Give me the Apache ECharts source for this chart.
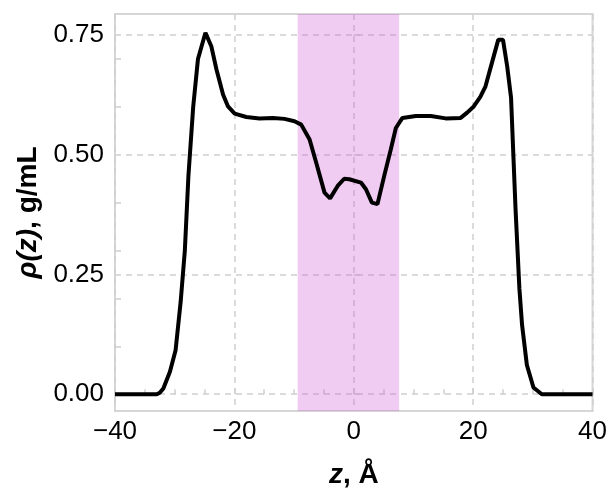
<!DOCTYPE html>
<html>
<head>
<meta charset="utf-8">
<script src="https://cdn.jsdelivr.net/npm/echarts@6/dist/echarts.min.js"></script>
<style>
  html, body { margin: 0; padding: 0; background: #fff; }
  #main { width: 610px; height: 494px; }
</style>
</head>
<body>
<div id="main"></div>
<script>
// density profile
var zValues = [-40, -33.0, -32.5, -31.9, -30.8, -29.85, -29.0, -28.3, -27.7, -26.9, -26.1, -24.85, -23.85, -23.0, -21.9, -21.07, -19.95, -18.0, -15.8, -13.55, -11.6, -9.93, -8.8, -7.4, -6.3, -4.9, -3.97, -2.7, -1.6, -0.75, 1.2, 2.04, 3.04, 3.97, 5.1, 6.2, 7.05, 8.15, 10.4, 12.9, 15.4, 17.9, 19.0, 20.1, 21.2, 22.07, 22.9, 24.2, 25.0, 25.7, 26.35, 27.1, 27.75, 28.2, 29.0, 30.1, 31.5, 40];
var rhoValues = [0, 0, 0.003, 0.012, 0.047, 0.092, 0.193, 0.30, 0.456, 0.60, 0.70, 0.755, 0.726, 0.678, 0.626, 0.601, 0.586, 0.579, 0.576, 0.577, 0.575, 0.570, 0.563, 0.532, 0.484, 0.421, 0.409, 0.435, 0.450, 0.449, 0.442, 0.428, 0.40, 0.397, 0.456, 0.511, 0.556, 0.577, 0.581, 0.581, 0.576, 0.577, 0.588, 0.601, 0.621, 0.643, 0.681, 0.740, 0.740, 0.685, 0.619, 0.387, 0.220, 0.144, 0.061, 0.014, 0, 0];
// shaded slab
var bandRange = [-9.4, 7.6];
// ticks
var yMajorTicks = [0, 0.25, 0.5, 0.75];
var yMinorTicks = [0.1, 0.2, 0.3, 0.4, 0.6, 0.7];

var font = 'Liberation Sans, Arial, Helvetica, sans-serif';
var gridGray = '#cfcfcf';

var lineData = zValues.map(function (z, i) { return [z, rhoValues[i]]; });

var myChart = echarts.init(document.getElementById('main'), null, { renderer: 'canvas' });
var option = {
    animation: false,
    grid: {
        left: 115, right: 16, top: 14, bottom: 81,
        show: true, borderColor: '#d6d6d6', borderWidth: 2, backgroundColor: 'transparent'
    },
    xAxis: {
        type: 'value', min: -40, max: 40, interval: 20,
        name: '{i|z}{b|, Å}', nameLocation: 'middle', nameGap: 50,
        nameTextStyle: {
            rich: {
                i: { fontFamily: font, fontSize: 28, fontWeight: 'bold', fontStyle: 'italic', color: '#000' },
                b: { fontFamily: font, fontSize: 28, fontWeight: 'bold', color: '#000' }
            }
        },
        axisLine: { show: false },
        axisTick: { show: true, inside: true, length: 6, lineStyle: { color: gridGray, width: 1.5 } },
        minorTick: { show: true, splitNumber: 4, length: 5, lineStyle: { color: gridGray, width: 1.5 } },
        axisLabel: {
            fontFamily: font, fontSize: 26, color: '#000', margin: 8,
            formatter: function (v) { return String(v).replace('-', '\u2212'); }
        },
        splitLine: { show: true, lineStyle: { color: gridGray, width: 1.5, type: [6, 5] } }
    },
    yAxis: [
        {
            type: 'value', min: -0.035, max: 0.794,
            name: '{i|ρ(z)}{b|, g/mL}', nameLocation: 'middle', nameGap: 70,
            nameTextStyle: {
                rich: {
                    i: { fontFamily: font, fontSize: 28, fontWeight: 'bold', fontStyle: 'italic', color: '#000' },
                    b: { fontFamily: font, fontSize: 28, fontWeight: 'bold', color: '#000' }
                }
            },
            axisLine: { show: false },
            axisTick: { show: true, inside: true, length: 6, customValues: yMajorTicks, lineStyle: { color: gridGray, width: 1.5 } },
            axisLabel: {
                fontFamily: font, fontSize: 26, color: '#000', margin: 11,
                customValues: yMajorTicks,
                formatter: function (v) { return v.toFixed(2); }
            },
            splitLine: { show: true, lineStyle: { color: gridGray, width: 1.5, type: [6, 5] } }
        },
        {
            type: 'value', min: -0.035, max: 0.794, position: 'left',
            axisLine: { show: false },
            axisTick: { show: true, inside: true, length: 6, customValues: yMinorTicks, lineStyle: { color: gridGray, width: 1.5 } },
            axisLabel: { show: false },
            splitLine: { show: false }
        }
    ],
    series: [
        {
            type: 'line',
            data: lineData,
            showSymbol: false,
            lineStyle: { color: '#000', width: 4 },
            z: 5,
            markArea: {
                silent: true,
                // translucent so the dashed grid shows through
                itemStyle: { color: 'rgba(205, 82, 212, 0.3)' },
                data: [[{ xAxis: bandRange[0] }, { xAxis: bandRange[1] }]]
            }
        }
    ]
};
myChart.setOption(option);
</script>
</body>
</html>
